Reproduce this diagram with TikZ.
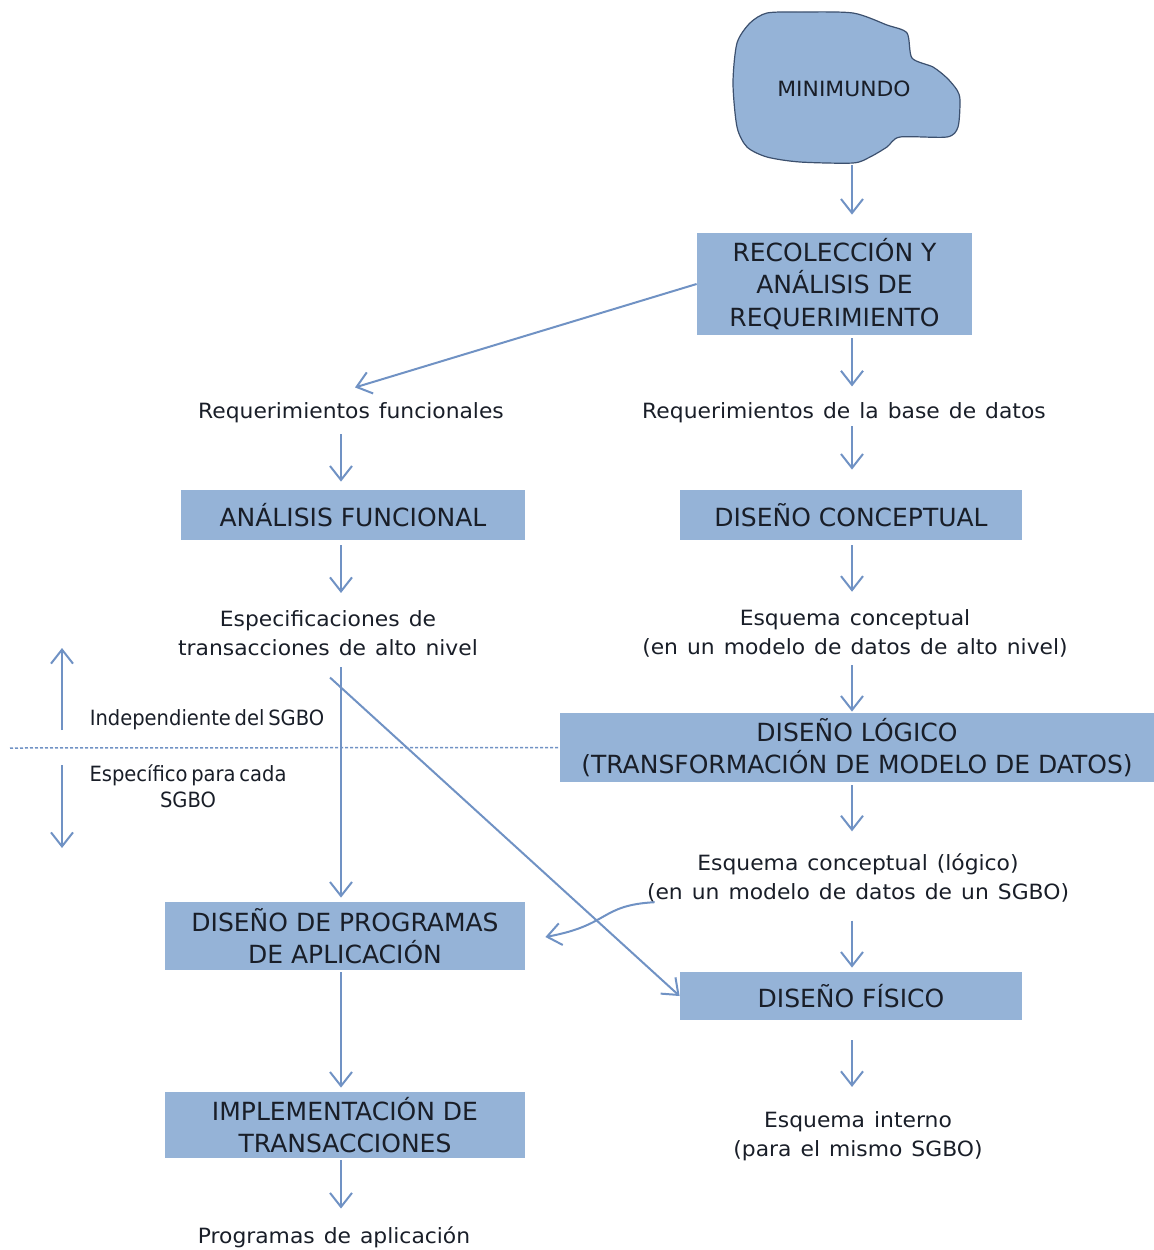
\documentclass[tikz,border=0pt]{standalone}
\usepackage{fontspec}
\usetikzlibrary{arrows.meta,calc}
\newfontfamily\lblfam[FakeStretch=1.04,WordSpace=1.3]{DejaVu Sans}
\newfontfamily\narrowfam[FakeStretch=0.93,WordSpace=0.6]{DejaVu Sans}
\newfontfamily\boxfam{DejaVu Sans}
\newcommand\lblfont{\lblfam\fontsize{10.5pt}{14.5pt}\selectfont}
\newcommand\narrowfont{\narrowfam\fontsize{10.5pt}{13pt}\selectfont}
\newcommand\boxfont{\boxfam\fontsize{12.5pt}{16.25pt}\selectfont}
\definecolor{boxc}{RGB}{149,179,215}
\definecolor{arrc}{RGB}{112,146,196}
\definecolor{txt}{RGB}{25,30,40}
\definecolor{cloudline}{RGB}{60,80,110}
\tikzset{
  box/.style={fill=boxc, inner sep=0pt, align=center, font=\boxfont, text=txt},
  lbl/.style={inner sep=0pt, align=center, font=\lblfont, text=txt},
  narrowlbl/.style={lbl, font=\narrowfont},
  arr/.style={draw=arrc, line width=1pt, -{Straight Barb[length=7pt,width=11pt,line width=1pt]}},
  divider/.style={draw=arrc, line width=0.75pt, dash pattern=on 1.5pt off 1pt},
  cloudshape/.style={fill=boxc, draw=cloudline, line width=0.6pt}
}
\begin{document}
\begin{tikzpicture}[x=0.5pt,y=-0.5pt]
\useasboundingbox (0,0) rectangle (1154,1250);
% cloud
\draw[cloudshape] plot[smooth cycle, tension=0.45] coordinates {
 (767,13) (800,12) (853,13) (887,25) (907,33) (912,58) (933,67) (947,78)
 (957,90) (960,100) (958,127) (947,137) (900,137) (887,147) (870,157)
 (853,163) (800,162) (767,157) (747,147) (737,127) (733,83) (737,43) (750,23)};
\node[lbl] (mini) at (844,89) {MINIMUNDO};
\coordinate (cb) at (852,165);
\coordinate (colR) at (852,0);
\coordinate (colL) at (341,0);

% boxes
\node[box, minimum width=137.5pt, minimum height=51pt] (rec) at (834.5,284)
  {RECOLECCIÓN Y\\ANÁLISIS DE\\REQUERIMIENTO};
\node[box, minimum width=172pt, minimum height=25pt] (func) at (353,515) {ANÁLISIS FUNCIONAL};
\node[box, minimum width=171pt, minimum height=25pt] (concept) at (851,515) {DISEÑO CONCEPTUAL};
\node[box, minimum width=297pt, minimum height=34.5pt] (logic) at (857,747.5)
  {DISEÑO LÓGICO\\(TRANSFORMACIÓN DE MODELO DE DATOS)};
\node[box, minimum width=180pt, minimum height=34pt] (prog) at (345,936)
  {DISEÑO DE PROGRAMAS\\DE APLICACIÓN};
\node[box, minimum width=171pt, minimum height=24pt] (fisico) at (851,996) {DISEÑO FÍSICO};
\node[box, minimum width=180pt, minimum height=33pt] (impl) at (345,1125)
  {IMPLEMENTACIÓN DE\\TRANSACCIONES};

% labels
\node[lbl] (reqf) at (351,413) {Requerimientos funcionales};
\node[lbl] (reqbd) at (844,413) {Requerimientos de la base de datos};
\node[lbl] (espec) at (328,633.5) {Especificaciones de\\transacciones de alto nivel};
\node[lbl] (esq1) at (855,633.5) {Esquema conceptual\\(en un modelo de datos de alto nivel)};
\node[narrowlbl] (indep) at (207,720) {Independiente del SGBO};
\node[narrowlbl] (espc) at (188,786) {Específico para cada\\SGBO};
\node[lbl] (esq2) at (858,877.5) {Esquema conceptual  (lógico)\\(en un modelo de datos de un SGBO)};
\node[lbl] (esq3) at (858,1136.5) {Esquema interno\\(para el mismo SGBO)};
\node[lbl] (progapp) at (334,1237) {Programas de aplicación};

% right column arrows
\draw[arr, shorten >=9pt] (cb) -- (rec.north -| colR);
\draw[arr, shorten <=1.5pt, shorten >=8pt] (rec.south -| colR) -- (reqbd.north -| colR);
\draw[arr, shorten <=1.25pt, shorten >=10pt] (reqbd.south -| colR) -- (concept.north -| colR);
\draw[arr, shorten <=2.5pt, shorten >=8.75pt] (concept.south -| colR) -- (esq1.north -| colR);
\draw[arr, shorten <=3.75pt, shorten >=0.5pt] (esq1.south -| colR) -- (logic.north -| colR);
\draw[arr, shorten <=1.5pt, shorten >=10.75pt] (logic.south -| colR) -- (esq2.north -| colR);
\draw[arr, shorten <=9.25pt, shorten >=2pt] (esq2.south -| colR) -- (fisico.north -| colR);
\draw[arr, shorten <=10pt, shorten >=12.25pt] (fisico.south -| colR) -- (esq3.north -| colR);

% left column arrows
\draw[arr, shorten <=5.25pt, shorten >=4pt] (reqf.south -| colL) -- (func.north -| colL);
\draw[arr, shorten <=2.5pt, shorten >=8.75pt] (func.south -| colL) -- (espec.north -| colL);
\draw[arr, shorten <=5.25pt, shorten >=2pt] (espec.south -| colL) -- (prog.north -| colL);
\draw[arr, shorten <=1pt, shorten >=2pt] (prog.south -| colL) -- (impl.north -| colL);
\draw[arr, shorten <=1pt, shorten >=8.75pt] (impl.south -| colL) -- (progapp.north -| colL);

% diagonal arrows
\draw[arr] (rec.west) -- ($(reqf.north)+(4,-15)$);
\draw[arr] ($(espec.south)+(2,21)$) -- (fisico.west);
\draw[arr] ($(esq2.south west)+(8,0)$) .. controls +(-55,3) and +(65,-12) .. ($(prog.east)+(20,1)$);

% divider
\coordinate (dashL) at (10,748);
\draw[divider] (dashL) -- (logic.west);
\coordinate (upA) at (62,730);
\coordinate (upB) at (62,648);
\coordinate (dnA) at (62,765);
\coordinate (dnB) at (62,848);
\draw[arr] (upA) -- (upB);
\draw[arr] (dnA) -- (dnB);
\end{tikzpicture}
\end{document}
